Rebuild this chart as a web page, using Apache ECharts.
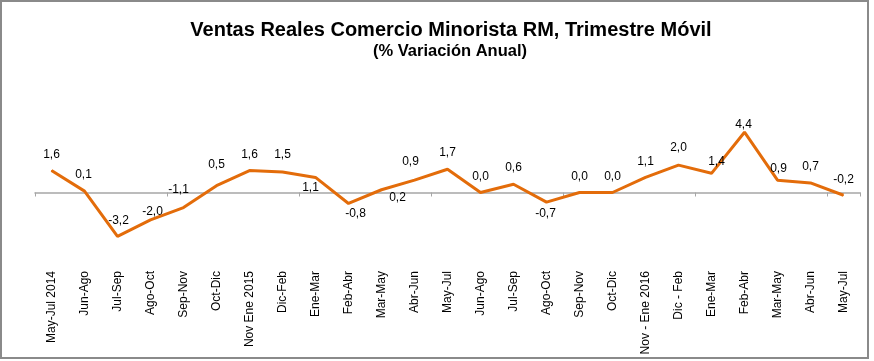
<!DOCTYPE html>
<html><head><meta charset="utf-8">
<script src="https://cdn.jsdelivr.net/npm/echarts@6/dist/echarts.min.js"></script>
<style>html,body{margin:0;padding:0;background:#fff}#c{width:874px;height:361px}</style>
</head><body><div id="c"></div>
<script>
const categories = ["May-Jul 2014","Jun-Ago","Jul-Sep","Ago-Oct","Sep-Nov","Oct-Dic","Nov Ene 2015","Dic-Feb","Ene-Mar","Feb-Abr","Mar-May","Abr-Jun","May-Jul","Jun-Ago","Jul-Sep","Ago-Oct","Sep-Nov","Oct-Dic","Nov - Ene 2016","Dic - Feb","Ene-Mar","Feb-Abr","Mar-May","Abr-Jun","May-Jul"];
const values = [1.6,0.1,-3.2,-2.0,-1.1,0.5,1.6,1.5,1.1,-0.8,0.2,0.9,1.7,0.0,0.6,-0.7,0.0,0.0,1.1,2.0,1.4,4.4,0.9,0.7,-0.2];
const titleText = "Ventas Reales Comercio Minorista RM, Trimestre Móvil";
const subtitleText = "(% Variación Anual)";
// label offsets (style), relative to each point
const labelOffsets = [[0,-16],[-1,-16],[1,-16],[2,-8],[-5,-18],[0,-21],[0,-16],[0,-17],[-5,10],[7,10],[16,8],[-4,-18],[0,-17],[0,-16],[0,-17],[-1,12],[0,-16],[0,-16],[0,-16],[0,-17],[5,-12],[-1,-8],[1,-11],[0,-16],[0,-16]];

const chart = echarts.init(document.getElementById('c'));
const fmt = v => v.toFixed(1).replace('.', ',');
chart.setOption({
  animation: false,
  backgroundColor: '#fff',
  title: [
    {text: titleText, left: 446, top: 15, textAlign: 'center',
     textStyle: {fontFamily: 'Liberation Sans', fontWeight: 'bold', fontSize: 20, color: '#000'}},
    {text: subtitleText, left: 445, top: 38, textAlign: 'center',
     textStyle: {fontFamily: 'Liberation Sans', fontWeight: 'bold', fontSize: 16.5, color: '#000'}}
  ],
  graphic: [{type: 'rect', shape: {x: 1, y: 1, width: 867, height: 357}, style: {fill: 'none', stroke: '#8a8a8a', lineWidth: 2}, silent: true}],
  grid: {left: 35, right: 14, top: 124, height: 137},
  xAxis: [
    {type: 'category', data: categories, boundaryGap: true, position: 'bottom',
     axisLine: {onZero: true, lineStyle: {color: '#a6a6a6', width: 1.5}},
     axisTick: {show: true, inside: false, length: 4, lineStyle: {color: '#a6a6a6'}},
     axisLabel: {show: false}, splitLine: {show: false}},
    {type: 'category', data: categories, boundaryGap: true, position: 'bottom',
     axisLine: {show: false, onZero: false}, axisTick: {show: false},
     axisLabel: {show: true, rotate: 90, interval: 0, margin: 10, fontFamily: 'Liberation Sans', fontSize: 12, color: '#000'}}
  ],
  yAxis: {type: 'value', min: -5, max: 5, show: false, splitLine: {show: false}},
  series: [{
    type: 'line', xAxisIndex: 0,
    data: values.map((v, i) => ({value: v, label: {offset: labelOffsets[i]}})),
    symbol: 'circle', symbolSize: 1, showSymbol: true,
    lineStyle: {color: '#E36C0A', width: 3},
    itemStyle: {color: '#E36C0A'},
    label: {show: true, position: 'inside', formatter: p => fmt(p.value),
      fontFamily: 'Liberation Sans', fontSize: 12, color: '#000'}
  }]
});
</script></body></html>
